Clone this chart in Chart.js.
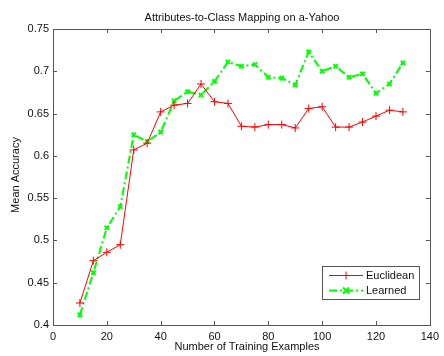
<!DOCTYPE html>
<html>
<head>
<meta charset="utf-8">
<script src="https://cdn.jsdelivr.net/npm/chart.js@4"></script>
<style>
html,body{margin:0;padding:0;background:#fff;}
canvas{display:block;}
</style>
</head>
<body>
<canvas id="c" width="444" height="356"></canvas>
<script>
const trainingExamples = [10,15,20,25,30,35,40,45,50,55,60,65,70,75,80,85,90,95,100,105,110,115,120,125,130];
const euclidean = [0.426,0.476,0.486,0.495,0.607,0.615,0.652,0.660,0.662,0.685,0.664,0.662,0.635,0.634,0.637,0.637,0.633,0.656,0.658,0.634,0.634,0.640,0.647,0.654,0.652];
const learned   = [0.412,0.462,0.515,0.540,0.625,0.617,0.628,0.665,0.676,0.672,0.688,0.711,0.706,0.708,0.693,0.692,0.684,0.723,0.700,0.706,0.693,0.697,0.674,0.685,0.710];
const xTickLabels = ['0','20','40','60','80','100','120','140'];
const yTickLabels = ['0.4','0.45','0.5','0.55','0.6','0.65','0.7','0.75'];
const seriesNames = ['Euclidean','Learned'];
const chartTitle = 'Attributes-to-Class Mapping on a-Yahoo';
const xTitle = 'Number of Training Examples';
const yTitle = 'Mean Accuracy';

const FONT = '11px "Liberation Sans", Arial, sans-serif';
const AXIS_COLOR = '#555';

function drawMarker(ctx, style, x, y, r) {
  ctx.beginPath();
  if (style === 'cross') {
    ctx.moveTo(x - r, y); ctx.lineTo(x + r, y);
    ctx.moveTo(x, y - r); ctx.lineTo(x, y + r);
  } else {
    ctx.moveTo(x - r, y - r); ctx.lineTo(x + r, y + r);
    ctx.moveTo(x - r, y + r); ctx.lineTo(x + r, y - r);
  }
  ctx.stroke();
}

const decor = {
  id: 'decor',
  afterDraw(chart) {
    const ctx = chart.ctx;
    const a = chart.chartArea;
    const xs = chart.scales.x, ys = chart.scales.y;
    ctx.save();
    // box
    ctx.strokeStyle = AXIS_COLOR;
    ctx.lineWidth = 1;
    ctx.setLineDash([]);
    ctx.strokeRect(Math.round(a.left) + 0.5, Math.round(a.top) + 0.5, Math.round(a.right - a.left), Math.round(a.bottom - a.top));
    // inward ticks
    ctx.beginPath();
    xs.ticks.forEach(t => {
      const px = Math.round(xs.getPixelForValue(t.value)) + 0.5;
      ctx.moveTo(px, a.bottom); ctx.lineTo(px, a.bottom - 4);
      ctx.moveTo(px, a.top); ctx.lineTo(px, a.top + 4);
    });
    ys.ticks.forEach(t => {
      const py = Math.round(ys.getPixelForValue(t.value)) + 0.5;
      ctx.moveTo(a.left, py); ctx.lineTo(a.left + 4, py);
      ctx.moveTo(a.right, py); ctx.lineTo(a.right - 4, py);
    });
    ctx.stroke();
    // titles
    ctx.fillStyle = '#111';
    ctx.font = FONT;
    ctx.textAlign = 'center';
    ctx.textBaseline = 'alphabetic';
    ctx.fillText(chartTitle, 242, 21);
    ctx.fillText(xTitle, 247, 350);
    ctx.save();
    ctx.translate(19, 175);
    ctx.rotate(-Math.PI / 2);
    ctx.fillText(yTitle, 0, 0);
    ctx.restore();
    // legend
    ctx.fillStyle = '#fff';
    ctx.fillRect(322, 266, 97, 33);
    ctx.strokeStyle = AXIS_COLOR;
    ctx.lineWidth = 1;
    ctx.strokeRect(322.5, 266.5, 97, 33);
    const rows = [275.5, 290.5];
    chart.data.datasets.forEach((ds, i) => {
      const y = rows[i];
      ctx.strokeStyle = ds.borderColor;
      ctx.lineWidth = ds.borderWidth;
      ctx.setLineDash(ds.borderDash || []);
      ctx.beginPath();
      ctx.moveTo(329, y); ctx.lineTo(363, y);
      ctx.stroke();
      ctx.setLineDash([]);
      ctx.lineWidth = ds.pointBorderWidth;
      drawMarker(ctx, ds.pointStyle, 346, y, ds.pointRadius);
      ctx.fillStyle = '#111';
      ctx.textAlign = 'left';
      ctx.textBaseline = 'middle';
      ctx.fillText(ds.label, 366, y + 0.5);
    });
    ctx.restore();
  }
};

new Chart(document.getElementById('c'), {
  type: 'line',
  data: {
    labels: trainingExamples,
    datasets: [
      {
        label: seriesNames[0],
        data: trainingExamples.map((x, i) => ({x: x, y: euclidean[i]})),
        borderColor: 'rgb(255,0,0)',
        backgroundColor: 'rgb(255,0,0)',
        borderWidth: 1,
        pointStyle: 'cross',
        pointRadius: 4,
        pointBorderWidth: 1,
        pointBorderColor: 'rgb(255,0,0)',
        tension: 0,
        fill: false
      },
      {
        label: seriesNames[1],
        data: trainingExamples.map((x, i) => ({x: x, y: learned[i]})),
        borderColor: 'rgb(0,255,0)',
        backgroundColor: 'rgb(0,255,0)',
        borderWidth: 2,
        borderDash: [8, 3, 2, 3],
        pointStyle: 'crossRot',
        pointRadius: 3,
        pointBorderWidth: 2,
        pointBorderColor: 'rgb(0,255,0)',
        tension: 0,
        fill: false
      }
    ]
  },
  options: {
    responsive: false,
    animation: false,
    events: [],
    layout: { padding: { top: 29, right: 10, left: 0, bottom: 0 } },
    plugins: { legend: { display: false }, title: { display: false }, tooltip: { enabled: false } },
    scales: {
      x: {
        type: 'linear',
        min: 0, max: 140,
        grid: { display: false, drawTicks: false },
        border: { display: false },
        ticks: {
          stepSize: 20,
          padding: 5,
          color: '#111',
          font: { family: '"Liberation Sans", Arial, sans-serif', size: 11 },
          maxRotation: 0,
          callback: (v, i) => xTickLabels[i]
        },
        afterFit: s => { s.height = 31; }
      },
      y: {
        type: 'linear',
        min: 0.4, max: 0.75,
        grid: { display: false, drawTicks: false },
        border: { display: false },
        ticks: {
          stepSize: 0.05,
          padding: 4,
          color: '#111',
          font: { family: '"Liberation Sans", Arial, sans-serif', size: 11 },
          callback: (v, i) => yTickLabels[i]
        },
        afterFit: s => { s.width = 53; }
      }
    }
  },
  plugins: [decor]
});
</script>
</body>
</html>
